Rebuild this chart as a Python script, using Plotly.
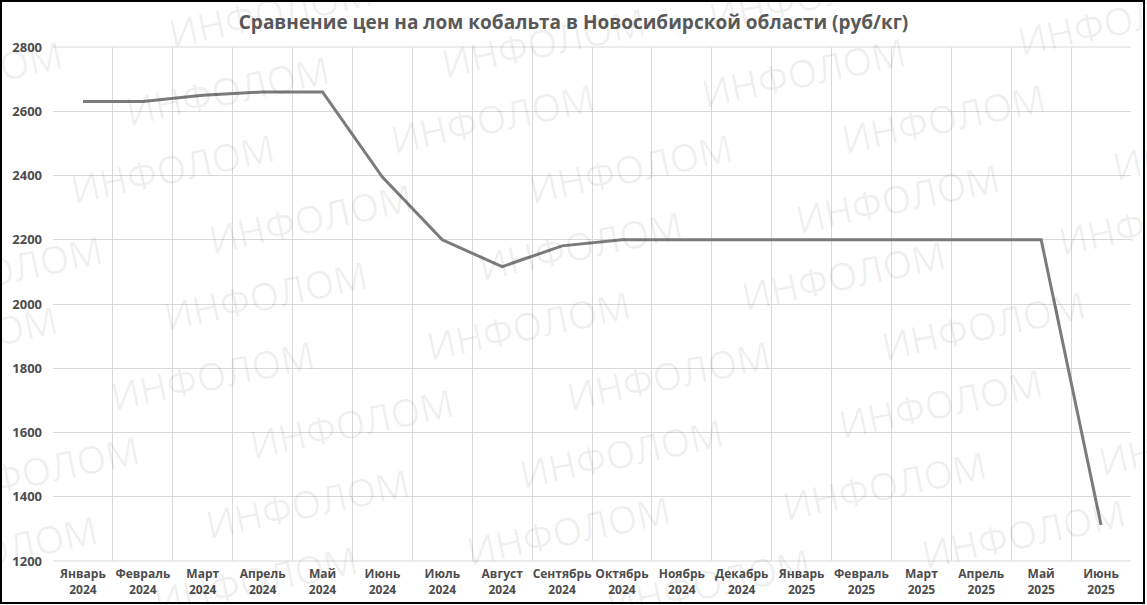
import plotly.graph_objects as go

months = ["Январь", "Февраль", "Март", "Апрель", "Май", "Июнь", "Июль", "Август",
          "Сентябрь", "Октябрь", "Ноябрь", "Декабрь", "Январь", "Февраль", "Март",
          "Апрель", "Май", "Июнь"]
years = ["2024"] * 12 + ["2025"] * 6
categories = [f"{m}<br>{y}" for m, y in zip(months, years)]
prices = [2630, 2630, 2650, 2660, 2660, 2395, 2200, 2116, 2181, 2200, 2200, 2200,
          2200, 2200, 2200, 2200, 2200, 1312]

W, H = 1147, 605
L, R, T, B = 53, 1131, 47, 561

def px2paper(x, y):
    return (x - L) / (R - L), (B - y) / (B - T)

fig = go.Figure()
fig.add_trace(go.Scatter(
    x=categories, y=prices, mode="lines",
    line=dict(color="#7b7b7b", width=3),
    hoverinfo="x+y", showlegend=False,
))

# watermark centres (pixels)
wm = [(270, 12), (-40, 75), (227, 90), (492, 118), (543, 42), (172, 168), (310, 218),
      (630, 168), (0, 270), (580, 245), (265, 295), (810, -5), (1119, 20), (803, 72),
      (943, 118), (1214, 145), (897, 198), (1160, 220), (843, 275), (-45, 340),
      (528, 325), (212, 375), (351, 423), (621, 453), (37, 470), (307, 503),
      (568, 530), (-5, 550), (255, 580), (668, 375), (983, 325), (940, 403),
      (1200, 440), (884, 485), (1023, 533), (708, 583)]
annotations = []
for (x, y) in wm:
    xp, yp = px2paper(x, y)
    annotations.append(dict(
        x=xp, y=yp, xref="paper", yref="paper", text="ИНФОЛОМ", showarrow=False,
        textangle=-12, xanchor="center", yanchor="middle",
        font=dict(family="Open Sans", size=38, color="rgba(0,0,0,0.06)"),
    ))

x0, y0 = px2paper(1, 1)
x1, y1 = px2paper(1144, 603)

fig.update_layout(
    width=W, height=H,
    margin=dict(l=L, r=W - R, t=T, b=H - B, autoexpand=False),
    paper_bgcolor="white", plot_bgcolor="white",
    title=dict(
        text="<b>Сравнение цен на лом кобальта в Новосибирской области (руб/кг)</b>",
        x=0.5, xanchor="center", y=1 - 22 / H, yanchor="middle",
        font=dict(family="Open Sans", size=19, color="#595959"),
    ),
    xaxis=dict(
        type="category", tickson="boundaries", range=[-0.5, len(categories) - 0.5],
        showgrid=True, gridcolor="#d9d9d9",
        gridwidth=1, ticks="", showline=False, zeroline=False, tickangle=0,
        automargin=False,
        tickfont=dict(family="Open Sans", size=12, color="#4d4d4d", weight="bold"),
        ticklabelstandoff=4,
    ),
    yaxis=dict(
        range=[1200, 2800], tickvals=[1200, 1400, 1600, 1800, 2000, 2200, 2400, 2600, 2800],
        showgrid=True, gridcolor="#d9d9d9", gridwidth=1, zeroline=False, showline=False,
        automargin=False,
        tickfont=dict(family="Open Sans", size=13, color="#4d4d4d", weight="bold"),
        ticklabelstandoff=10,
    ),
    annotations=annotations,
    shapes=[
        dict(type="line", xref="paper", yref="paper", x0=0, x1=1, y0=0, y1=0,
             line=dict(color="#d9d9d9", width=1)),
        dict(type="line", xref="paper", yref="paper", x0=0, x1=1, y0=1, y1=1,
             line=dict(color="#d9d9d9", width=1)),
        dict(type="rect", xref="paper", yref="paper", x0=x0, y0=y0, x1=x1, y1=y1,
             line=dict(color="black", width=2), layer="above"),
    ],
)

fig.write_html("out.html", config={"displayModeBar": False},
               post_script="document.body.style.margin='0';document.body.style.overflow='hidden';")
